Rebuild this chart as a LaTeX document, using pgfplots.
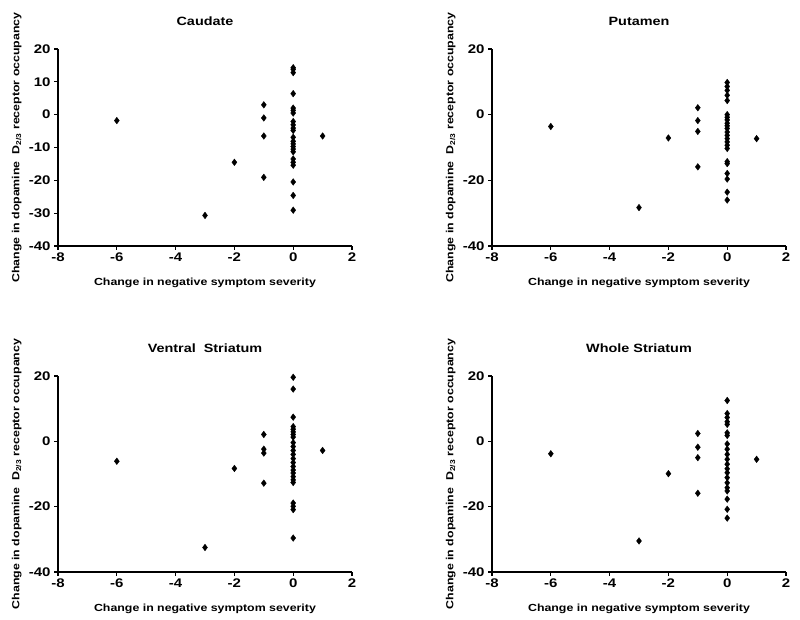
\documentclass[border=0pt]{standalone}
\usepackage{pgfplots}
\pgfplotsset{compat=1.18}
\usepackage{fontspec}
\setmainfont{Liberation Sans}[FakeStretch=1.2]
\pgfplotsset{
  myax/.style={
    scale only axis, width=294pt, height=197pt,
    xmin=-8, xmax=2, ymin=-40, ymax=20,
    axis x line*=bottom, axis y line*=left,
    axis line style={line width=1.3pt, -},
    tick style={line width=1.3pt, black},
    tick align=outside, major tick length=4pt,
    xtick={-8,-6,-4,-2,0,2}, xticklabels={-8,-6,-4,-2,0,2},
    ytick={-40,-20,0,20}, yticklabels={-40,-20,0,20},
    ticklabel style={font=\bfseries\fontsize{12.5}{13}\selectfont},
    xticklabel style={yshift=1pt},
    xlabel={Change in negative symptom severity},
    ylabel={Change in dopamine\ \ D\textsubscript{\scriptsize 2/3} receptor occupancy},
    every axis x label/.style={at={(axis description cs:0.5,-0.188)}, anchor=center, font=\bfseries\fontsize{10.3}{11}\selectfont},
    every axis y label/.style={at={(axis description cs:-0.14,0.5)}, anchor=center, rotate=90, font=\bfseries\fontsize{10.3}{11}\selectfont},
    every axis title/.style={at={(axis description cs:0.5,1.14)}, anchor=center, font=\bfseries\fontsize{12}{13}\selectfont},
  },
  mk/.style={only marks, mark=diamond*, mark size=3.3pt, black, mark options={fill=black, draw=black}},
}
\begin{document}
\begin{tikzpicture}
\useasboundingbox (0,0) rectangle (800pt,620pt);
% Caudate
\begin{axis}[myax, at={(58pt,374pt)}, anchor=south west, title={Caudate},
  ytick={-40,-30,-20,-10,0,10,20}, yticklabels={-40,-30,-20,-10,0,10,20}]
\addplot[mk] coordinates {(-6,-1.8) (-3,-30.7) (-2,-14.5) (-1,3) (-1,-1) (-1,-6.5) (-1,-19.1) (1,-6.5)
(0,14.3) (0,13.8) (0,12.8) (0,6.4) (0,2.0) (0,1.3) (0,0.5) (0,-2.1) (0,-3.1) (0,-4.1) (0,-4.8) (0,-6.9) (0,-8.1) (0,-8.9) (0,-9.7) (0,-10.5) (0,-11.3) (0,-13.5) (0,-14.5) (0,-15.4) (0,-20.5) (0,-24.6) (0,-29.1)};
\end{axis}
% Putamen
\begin{axis}[myax, at={(492pt,374pt)}, anchor=south west, title={Putamen}]
\addplot[mk] coordinates {(-6,-3.6) (-3,-28.3) (-2,-7.1) (-1,2.1) (-1,-1.8) (-1,-5.1) (-1,-15.9) (1,-7.3)
(0,9.8) (0,8.6) (0,7.4) (0,5.9) (0,4.3) (0,0) (0,-0.8) (0,-1.6) (0,-2.6) (0,-3.4) (0,-4.2) (0,-5.3) (0,-6.3) (0,-7.3) (0,-8.3) (0,-9.3) (0,-10.3) (0,-14.3) (0,-14.9) (0,-17.9) (0,-19.6) (0,-23.6) (0,-26.0)};
\end{axis}
% Ventral Striatum
\begin{axis}[myax, height=196pt, at={(58pt,48pt)}, anchor=south west, title={Ventral\ \ Striatum}]
\addplot[mk] coordinates {(-6,-6.1) (-3,-32.5) (-2,-8.3) (-1,2.1) (-1,-2.4) (-1,-3.6) (-1,-12.8) (1,-2.8)
(0,19.6) (0,16.0) (0,7.4) (0,4.5) (0,3.7) (0,2.9) (0,2.1) (0,1.3) (0,-0.4) (0,-1.6) (0,-2.8) (0,-4.0) (0,-5.3) (0,-6.5) (0,-7.7) (0,-8.8) (0,-9.7) (0,-10.8) (0,-11.8) (0,-12.6) (0,-18.9) (0,-19.9) (0,-20.9) (0,-29.6)};
\end{axis}
% Whole Striatum
\begin{axis}[myax, height=196pt, at={(492pt,48pt)}, anchor=south west, title={Whole Striatum}]
\addplot[mk] coordinates {(-6,-3.8) (-3,-30.5) (-2,-9.9) (-1,2.4) (-1,-1.8) (-1,-5.0) (-1,-15.9) (1,-5.5)
(0,12.5) (0,8.5) (0,7.3) (0,6.0) (0,5.2) (0,2.6) (0,1.8) (0,-0.8) (0,-2.4) (0,-4.0) (0,-5.5) (0,-7.0) (0,-8.4) (0,-9.6) (0,-11.1) (0,-12.7) (0,-14.2) (0,-15.2) (0,-17.7) (0,-20.8) (0,-23.5)};
\end{axis}
\end{tikzpicture}
\end{document}
